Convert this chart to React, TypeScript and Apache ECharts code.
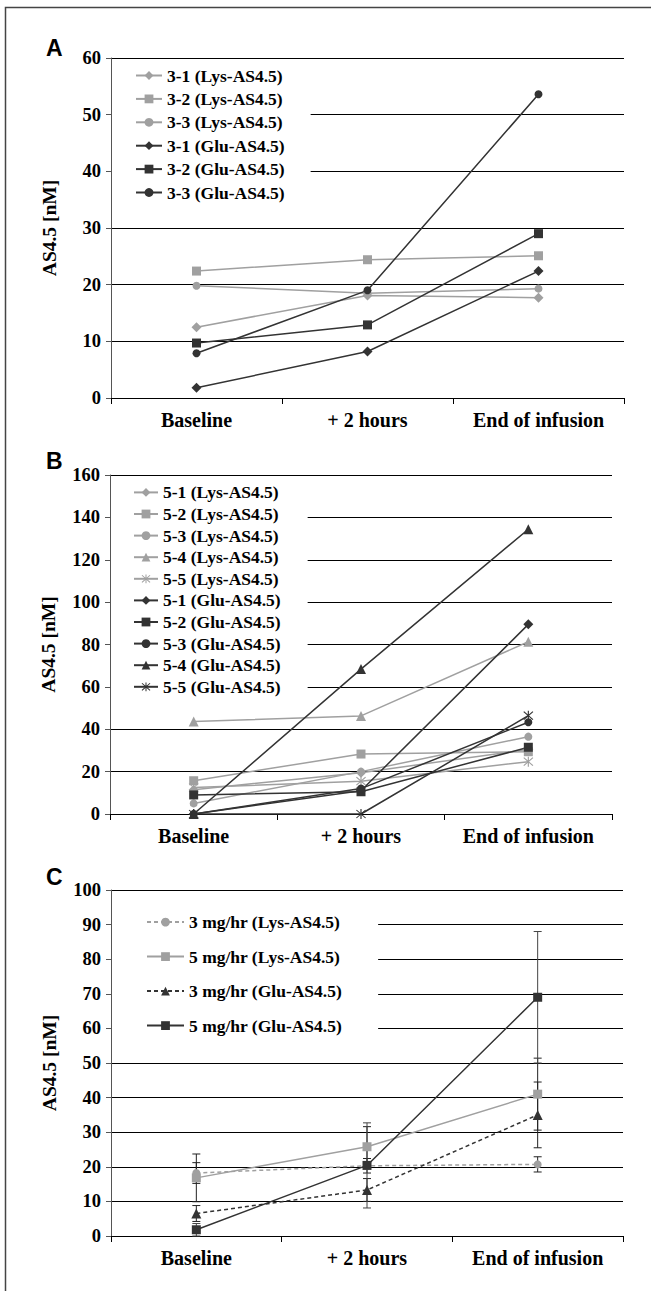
import React, { useEffect, useRef } from 'react';
import * as echarts from 'echarts';

const categories = ['Baseline', '+ 2 hours', 'End of infusion'];

// Panel A
const a31Lys = [12.5, 18.1, 17.7];
const a32Lys = [22.4, 24.4, 25.1];
const a33Lys = [19.8, 18.5, 19.3];
const a31Glu = [1.8, 8.2, 22.4];
const a32Glu = [9.7, 12.9, 29.0];
const a33Glu = [7.9, 19.0, 53.6];

// Panel B
const b51Lys = [11.5, 19.5, 30.5];
const b52Lys = [15.7, 28.3, 29.4];
const b53Lys = [5.0, 20.0, 36.5];
const b54Lys = [43.6, 46.3, 81.3];
const b55Lys = [12.5, 15.5, 24.7];
const b51Glu = [0, 11.0, 89.5];
const b52Glu = [9.0, 10.5, 31.5];
const b53Glu = [0, 12.0, 43.3];
const b54Glu = [0, 68.4, 134.4];
const b55Glu = [0, 0, 46.4];

// Panel C (means and error half-widths)
const c3Lys = [18.2, 20.3, 20.7];
const c3LysErr = [3.0, 2.1, 2.2];
const c5Lys = [16.8, 25.8, 41.0];
const c5LysErr = [6.9, 5.8, 10.4];
const c3Glu = [6.5, 13.3, 35.0];
const c3GluErr = [2.3, 3.3, 9.5];
const c5Glu = [1.8, 20.4, 69.0];
const c5GluErr = [1.8, 12.3, 19.0];

const LIGHT = '#a0a0a0';
const DARK = '#333333';
const SERIF = "'Liberation Serif', 'Times New Roman', serif";
const ASTERISK =
  'path://M9,0H11V20H9Z M1.3,2.7L2.7,1.3L18.7,17.3L17.3,18.7Z M17.3,1.3L18.7,2.7L2.7,18.7L1.3,17.3Z';

const symSize: Record<string, number> = { diamond: 10, rect: 9, circle: 8, triangle: 10 };

function lineSeries(name: string, data: number[], idx: number, color: string, symbol: string, dashed = false) {
  return {
    type: 'line',
    name,
    data,
    xAxisIndex: idx,
    yAxisIndex: idx,
    symbol,
    symbolSize: symSize[symbol] ?? 10,
    showSymbol: true,
    lineStyle: { color, width: 1.5, type: dashed ? [4, 3] : 'solid' },
    itemStyle: { color },
    emphasis: { disabled: true },
    z: 3,
  };
}

function errSeries(vals: number[], errs: number[], color: string) {
  return {
    type: 'custom',
    xAxisIndex: 2,
    yAxisIndex: 2,
    silent: true,
    z: 2,
    encode: { x: 0, y: [1, 2] },
    data: vals.map((v, i) => [i, Math.max(0, v - errs[i]), v + errs[i]]),
    renderItem: (params: any, api: any) => {
      const x = api.value(0);
      const lo = api.coord([x, api.value(1)]);
      const hi = api.coord([x, api.value(2)]);
      const w = 4;
      const st = { stroke: color, lineWidth: 1 };
      return {
        type: 'group',
        children: [
          { type: 'line', shape: { x1: lo[0], y1: lo[1], x2: hi[0], y2: hi[1] }, style: st },
          { type: 'line', shape: { x1: lo[0] - w, y1: lo[1], x2: lo[0] + w, y2: lo[1] }, style: st },
          { type: 'line', shape: { x1: hi[0] - w, y1: hi[1], x2: hi[0] + w, y2: hi[1] }, style: st },
        ],
      };
    },
  };
}

function xAxis(idx: number) {
  return {
    type: 'category',
    gridIndex: idx,
    data: categories,
    boundaryGap: true,
    axisLine: { lineStyle: { color: '#000', width: 1 } },
    axisTick: { show: true, length: 6, lineStyle: { color: '#000' } },
    axisLabel: { interval: 0, fontSize: 20, fontWeight: 'bold', color: '#000', margin: 12, fontFamily: SERIF },
    splitLine: { show: false },
  };
}

function yAxis(idx: number, max: number, interval: number) {
  return {
    type: 'value',
    gridIndex: idx,
    min: 0,
    max,
    interval,
    axisLine: { show: true, lineStyle: { color: '#555', width: 1 } },
    axisTick: { show: true, length: 5, lineStyle: { color: '#555' } },
    axisLabel: { fontSize: 18.5, fontWeight: 'bold', color: '#000', margin: 10, fontFamily: SERIF },
    splitLine: { show: true, lineStyle: { color: '#000', width: 1 } },
    name: 'AS4.5 [nM]',
    nameLocation: 'middle',
    nameGap: 52,
    nameTextStyle: { fontSize: 19.5, fontWeight: 'bold', color: '#000', fontFamily: SERIF },
  };
}

const legendText = { fontSize: 17.5, fontWeight: 'bold', color: '#000', fontFamily: SERIF, lineHeight: 16 };

export default function App() {
  const ref = useRef<HTMLDivElement>(null);
  useEffect(() => {
    if (!ref.current) return;
    const chart = echarts.init(ref.current, null, { renderer: 'svg' });
    const namesA = ['3-1 (Lys-AS4.5)', '3-2 (Lys-AS4.5)', '3-3 (Lys-AS4.5)', '3-1 (Glu-AS4.5)', '3-2 (Glu-AS4.5)', '3-3 (Glu-AS4.5)'];
    const namesB = [
      '5-1 (Lys-AS4.5)', '5-2 (Lys-AS4.5)', '5-3 (Lys-AS4.5)', '5-4 (Lys-AS4.5)', '5-5 (Lys-AS4.5)',
      '5-1 (Glu-AS4.5)', '5-2 (Glu-AS4.5)', '5-3 (Glu-AS4.5)', '5-4 (Glu-AS4.5)', '5-5 (Glu-AS4.5)',
    ];
    const namesC = ['3 mg/hr (Lys-AS4.5)', '5 mg/hr (Lys-AS4.5)', '3 mg/hr (Glu-AS4.5)', '5 mg/hr (Glu-AS4.5)'];
    const letter = (t: string, x: number, y: number) => ({
      type: 'text',
      x,
      y,
      silent: true,
      style: {
        text: t,
        fontSize: 23,
        fontWeight: 'bold',
        fontFamily: "'Liberation Sans', Arial, sans-serif",
        fill: '#000',
        align: 'left',
        verticalAlign: 'middle',
      },
    });
    const option: any = {
      animation: false,
      backgroundColor: '#fff',
      grid: [
        { left: 111, top: 58, width: 513, height: 340 },
        { left: 110, top: 475, width: 502, height: 339 },
        { left: 111, top: 890, width: 512, height: 346 },
      ],
      xAxis: [xAxis(0), xAxis(1), xAxis(2)],
      yAxis: [yAxis(0, 60, 10), yAxis(1, 160, 20), yAxis(2, 100, 10)],
      legend: [
        {
          data: namesA, orient: 'vertical', left: 112, top: 62, padding: [4.5, 26, 5, 23],
          backgroundColor: '#fff', itemWidth: 26, itemHeight: 11, itemGap: 5.4, align: 'left',
          selectedMode: false, textStyle: legendText,
        },
        {
          data: namesB, orient: 'vertical', left: 111, top: 480, padding: [3.4, 27, 5, 22],
          backgroundColor: '#fff', itemWidth: 24, itemHeight: 11, itemGap: 3.6, align: 'left',
          selectedMode: false, textStyle: legendText,
        },
        {
          data: namesC, orient: 'vertical', left: 112, top: 895, padding: [18.1, 36, 12, 34],
          backgroundColor: '#fff', itemWidth: 37, itemHeight: 11, itemGap: 16.5, align: 'left',
          selectedMode: false, textStyle: legendText,
        },
      ],
      graphic: [
        letter('A', 46, 48),
        letter('B', 46, 461),
        letter('C', 46, 877),
        {
          type: 'polyline',
          silent: true,
          shape: { points: [[5.5, 1291], [5.5, 7.5], [651, 7.5]] },
          style: { stroke: '#444', lineWidth: 1.5, fill: null },
        },
      ],
      series: [
        lineSeries(namesA[0], a31Lys, 0, LIGHT, 'diamond'),
        lineSeries(namesA[1], a32Lys, 0, LIGHT, 'rect'),
        lineSeries(namesA[2], a33Lys, 0, LIGHT, 'circle'),
        lineSeries(namesA[3], a31Glu, 0, DARK, 'diamond'),
        lineSeries(namesA[4], a32Glu, 0, DARK, 'rect'),
        lineSeries(namesA[5], a33Glu, 0, DARK, 'circle'),

        lineSeries(namesB[0], b51Lys, 1, LIGHT, 'diamond'),
        lineSeries(namesB[1], b52Lys, 1, LIGHT, 'rect'),
        lineSeries(namesB[2], b53Lys, 1, LIGHT, 'circle'),
        lineSeries(namesB[3], b54Lys, 1, LIGHT, 'triangle'),
        lineSeries(namesB[4], b55Lys, 1, LIGHT, ASTERISK),
        lineSeries(namesB[5], b51Glu, 1, DARK, 'diamond'),
        lineSeries(namesB[6], b52Glu, 1, DARK, 'rect'),
        lineSeries(namesB[7], b53Glu, 1, DARK, 'circle'),
        lineSeries(namesB[8], b54Glu, 1, DARK, 'triangle'),
        lineSeries(namesB[9], b55Glu, 1, DARK, ASTERISK),

        errSeries(c3Lys, c3LysErr, '#222'),
        errSeries(c5Lys, c5LysErr, '#222'),
        errSeries(c3Glu, c3GluErr, '#222'),
        errSeries(c5Glu, c5GluErr, '#444'),
        lineSeries(namesC[0], c3Lys, 2, LIGHT, 'circle', true),
        lineSeries(namesC[1], c5Lys, 2, LIGHT, 'rect'),
        lineSeries(namesC[2], c3Glu, 2, DARK, 'triangle', true),
        lineSeries(namesC[3], c5Glu, 2, DARK, 'rect'),
      ],
    };
    chart.setOption(option);
    return () => chart.dispose();
  }, []);
  return (
    <div
      ref={ref}
      style={{ position: 'absolute', left: 0, top: 0, width: 651, height: 1291, background: '#fff' }}
    />
  );
}
